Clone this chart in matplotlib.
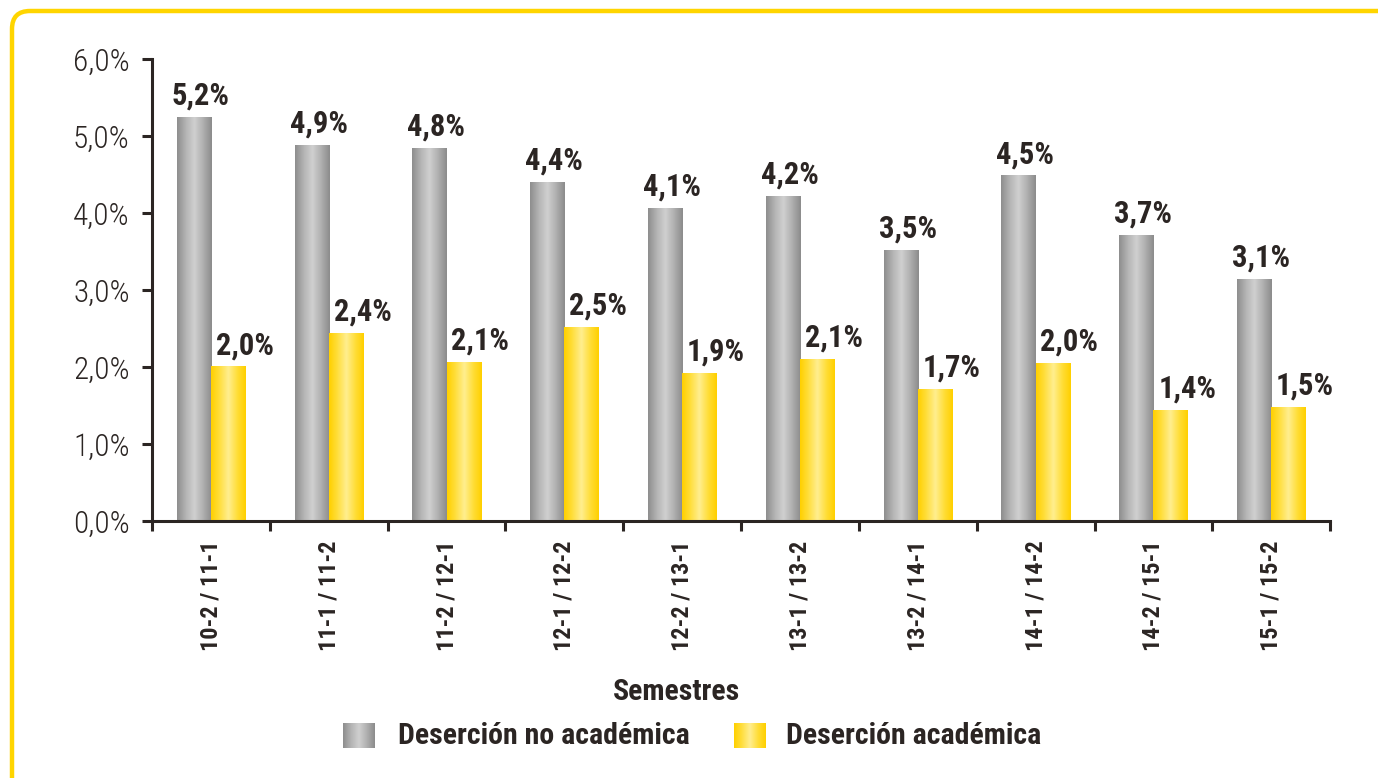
import numpy as np
import matplotlib
matplotlib.use('Agg')
import matplotlib.pyplot as plt
from matplotlib.colors import LinearSegmentedColormap
from matplotlib.patches import FancyBboxPatch
from matplotlib import font_manager

# data
semestres = ['10-2 / 11-1', '11-1 / 11-2', '11-2 / 12-1', '12-1 / 12-2', '12-2 / 13-1',
             '13-1 / 13-2', '13-2 / 14-1', '14-1 / 14-2', '14-2 / 15-1', '15-1 / 15-2']
no_academica = [5.24, 4.88, 4.84, 4.39, 4.06, 4.21, 3.51, 4.48, 3.71, 3.13]
academica = [2.00, 2.43, 2.06, 2.51, 1.91, 2.10, 1.71, 2.04, 1.43, 1.47]

# pick a narrow font if one is around
fonts = font_manager.fontManager.ttflist
names = {f.name for f in fonts}
narrow = [n for n in ['Liberation Sans Narrow', 'Roboto Condensed', 'Open Sans Condensed'] if n in names]
if narrow:
    plt.rcParams['font.family'] = [narrow[0], 'DejaVu Sans']
elif any(f.name == 'DejaVu Sans' and 'condensed' in str(f.stretch) for f in fonts):
    plt.rcParams['font.family'] = ['DejaVu Sans']
    plt.rcParams['font.stretch'] = 'condensed'
else:
    plt.rcParams['font.family'] = ['Roboto', 'DejaVu Sans']

ink = '#2b2523'
gray_cm = LinearSegmentedColormap.from_list('g', ['#8e8e8e', '#b4b4b4', '#d0d0d0', '#b0b0b0', '#8c8c8c'])
yel_cm = LinearSegmentedColormap.from_list('y', ['#ffd000', '#ffdf40', '#ffee90', '#ffde3a', '#ffd000'])
grad = np.linspace(0, 1, 64).reshape(1, -1)

fig = plt.figure(figsize=(13.78, 7.78), dpi=100)
ax = fig.add_axes([0.1103, 0.3303, 0.855, 0.594])

# yellow rounded frame, running off the right and bottom edges
fig.patches.append(FancyBboxPatch((12, -400), 1500, 778 - 11 + 400, boxstyle='round,pad=0,rounding_size=18',
                                  transform=None, fill=False, edgecolor='#ffd500', linewidth=3.2))

x = np.arange(len(semestres))
w = 0.29
b1 = ax.bar(x - w / 2, no_academica, w, color='none', edgecolor='none')
b2 = ax.bar(x + w / 2, academica, w, color='none', edgecolor='none')
for bars, cm in ((b1, gray_cm), (b2, yel_cm)):
    for r in bars:
        x0, h, bw = r.get_x(), r.get_height(), r.get_width()
        ax.imshow(grad, cmap=cm, extent=[x0, x0 + bw, 0, h], aspect='auto', zorder=2, interpolation='bilinear')

for bars, vals, dx in ((b1, no_academica, 5), (b2, academica, 12)):
    for r, v in zip(bars, vals):
        ax.annotate(f'{v:.1f}%'.replace('.', ','), (r.get_x() + r.get_width() / 2, r.get_height()),
                    xytext=(dx, 5), textcoords='offset points', ha='center', va='bottom',
                    fontsize=22, fontweight='bold', color=ink)

ax.set_xlim(-0.5, len(semestres) - 0.5)
ax.set_ylim(0, 6)
ax.set_yticks(np.arange(0, 7))
ax.set_yticklabels([f'{v:.1f}%'.replace('.', ',') for v in range(7)], fontsize=22.5,
                   fontweight='light', color=ink)
ax.set_xticks(x)
ax.set_xticklabels(semestres, rotation=90, fontsize=17.5, fontweight='bold', color=ink)
ax.set_xticks(np.arange(-0.5, len(semestres)), minor=True)
ax.tick_params(axis='x', which='major', length=0, pad=14)
ax.tick_params(axis='x', which='minor', length=7, width=2.2, color=ink, direction='out')
ax.tick_params(axis='y', length=7, width=2.2, color=ink, pad=9)
for s in ['top', 'right']:
    ax.spines[s].set_visible(False)
for s in ['left', 'bottom']:
    ax.spines[s].set_color(ink)
    ax.spines[s].set_linewidth(2.2)

fig.text(0.4906, 1 - 692 / 778, 'Semestres', ha='center', va='center', fontsize=21.5, fontweight='bold', color=ink)

# legend with gradient swatches
for (sx, tx, label, cm) in ((343, 398, 'Deserción no académica', gray_cm),
                            (734, 786, 'Deserción académica', yel_cm)):
    la = fig.add_axes([sx / 1378, 1 - 748 / 778, 32 / 1378, 25 / 778])
    la.imshow(grad, cmap=cm, aspect='auto', interpolation='bilinear')
    la.axis('off')
    fig.text(tx / 1378, 1 - 736 / 778, label, ha='left', va='center', fontsize=21.5, fontweight='bold', color=ink)

fig.savefig('out.png', dpi=100)
